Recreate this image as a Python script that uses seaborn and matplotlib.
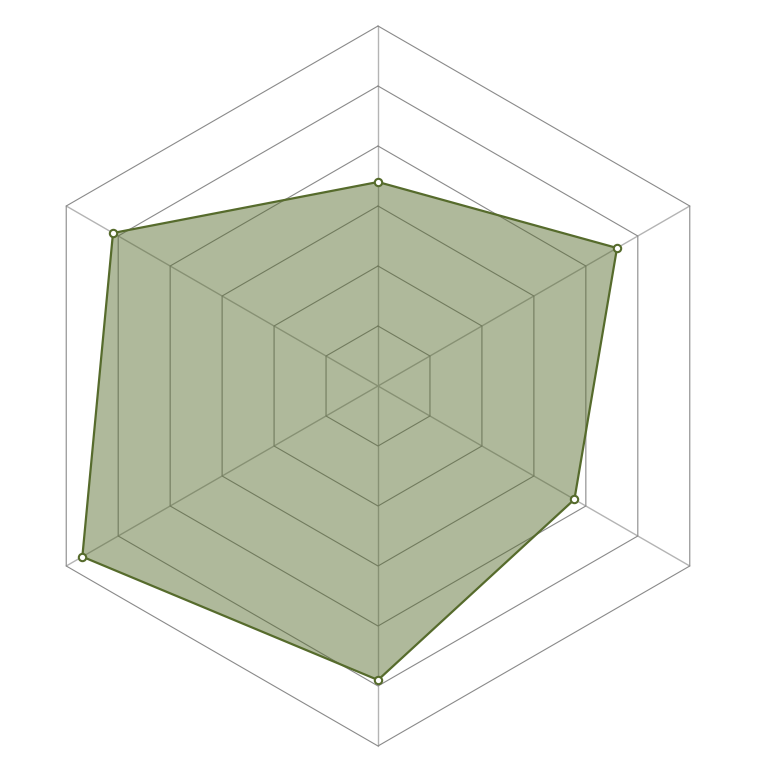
import numpy as np
import pandas as pd
import matplotlib
matplotlib.use('Agg')
import matplotlib.pyplot as plt
import seaborn as sns

# six axes, read counter-clockwise from the top
axes_names = ['A', 'B', 'C', 'D', 'E', 'F']
angles_deg = [90, 150, 210, 270, 330, 30]
values = [3.4, 5.1, 5.69, 4.9, 3.78, 4.6]
levels = [1, 2, 3, 4, 5, 6]
vmax = 6

LINE = '#566b2c'
GRID = '#8a8a8a'

sns.set_style('white')

fig = plt.figure(figsize=(7.74, 7.74), dpi=100)
ax = fig.add_axes([0, 0, 1, 1])

theta = np.deg2rad(angles_deg)
ct, st = np.cos(theta), np.sin(theta)

# spokes
for c, s in zip(ct, st):
    ax.plot([0, c], [0, s], color='#b4b4b4', lw=1.0, zorder=1)

# hexagon rings
for lv in levels:
    r = lv / vmax
    xs = np.append(r * ct, r * ct[0])
    ys = np.append(r * st, r * st[0])
    ax.plot(xs, ys, color=GRID, lw=0.8, zorder=1)

# data polygon
r = np.array(values) / vmax
df = pd.DataFrame({'axis': axes_names, 'x': r * ct, 'y': r * st})
px = np.append(df['x'].values, df['x'].values[0])
py = np.append(df['y'].values, df['y'].values[0])
ax.fill(px, py, color=LINE, alpha=0.47, lw=0, zorder=2)
ax.plot(px, py, color=LINE, lw=1.6, zorder=3)
sns.scatterplot(data=df, x='x', y='y', ax=ax, s=28, color='white',
                edgecolor=LINE, linewidth=1.5, zorder=4, legend=False)

ax.set_xlim(-378 / 360, 396 / 360)
ax.set_ylim(-388 / 360, 386 / 360)
ax.set_aspect('equal')
ax.axis('off')

fig.savefig('out.png', dpi=100)
